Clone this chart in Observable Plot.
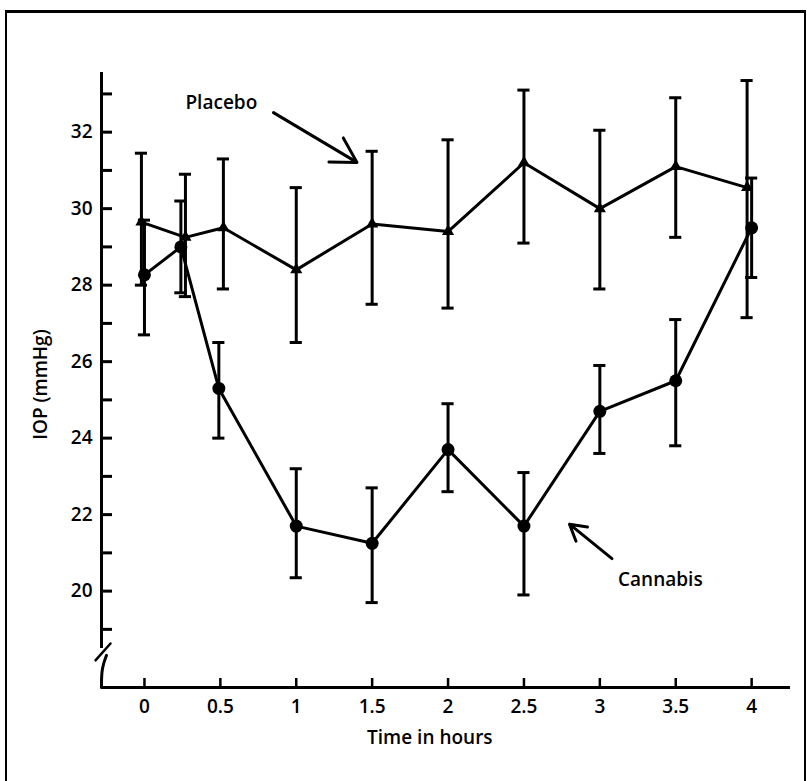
<!DOCTYPE html>
<html><head><meta charset="utf-8">
<script src="https://cdn.jsdelivr.net/npm/d3@7"></script>
<script src="https://cdn.jsdelivr.net/npm/@observablehq/plot@0.6"></script>
<style>
body{margin:0;background:#fff;}
#wrap{position:relative;width:807px;height:781px;overflow:hidden;background:#fff;}
#border{position:absolute;left:5px;top:10px;width:801px;height:900px;border-left:2.5px solid #000;border-top:3px solid #000;border-right:2px solid #000;box-sizing:border-box;pointer-events:none;}
svg{position:absolute;left:0;top:0;}
</style></head><body><div id="wrap"><div id="border"></div></div>
<script>
// ---- data ----
const placeboT    = [-0.02, 0.27, 0.52, 1, 1.5, 2, 2.5, 3, 3.5, 3.97];
const placeboMean = [29.65, 29.25, 29.5, 28.4, 29.6, 29.4, 31.2, 30.0, 31.1, 30.55];
const placeboLo   = [28.0, 27.7, 27.9, 26.5, 27.5, 27.4, 29.1, 27.9, 29.25, 27.15];
const placeboHi   = [31.45, 30.9, 31.3, 30.55, 31.5, 31.8, 33.1, 32.05, 32.9, 33.35];

const cannabisT    = [0, 0.24, 0.49, 1, 1.5, 2, 2.5, 3, 3.5, 4.0];
const cannabisMean = [28.27, 29.0, 25.3, 21.7, 21.25, 23.7, 21.7, 24.7, 25.5, 29.5];
const cannabisLo   = [26.7, 27.8, 24.0, 20.35, 19.7, 22.6, 19.9, 23.6, 23.8, 28.2];
const cannabisHi   = [29.7, 30.2, 26.5, 23.2, 22.7, 24.9, 23.1, 25.9, 27.1, 30.8];

const xTicks = [0, 0.5, 1, 1.5, 2, 2.5, 3, 3.5, 4];
const xTickLabels = ["0", "0.5", "1", "1.5", "2", "2.5", "3", "3.5", "4"];
const yTicks = [19, 20, 21, 22, 23, 24, 25, 26, 27, 28, 29, 30, 31, 32, 33];
const yLabels = [20, 22, 24, 26, 28, 30, 32];

const xTitle = "Time in hours";
const yTitle = "IOP (mmHg)";
const placeboLabel = "Placebo";
const cannabisLabel = "Cannabis";

// annotation anchors in data units
const placeboText = {t: 0.27, v: 32.77};
const placeboArrow = {t1: 0.85, v1: 32.51, t2: 1.40, v2: 31.21};
const cannabisText = {t: 3.12, v: 20.3};
const cannabisArrow = {t1: 3.08, v1: 20.85, t2: 2.80, v2: 21.75};
// axis break (data units)
const breakSlash = [{t: -0.3225, v: 18.19}, {t: -0.2237, v: 18.63}];
const breakLower = [{t: -0.250, v: 18.32}, {t: -0.283, v: 17.98}, {t: -0.283, v: 17.48}];

// ---- build ----
const xDomain = [-0.283, 4.256];
const yDomain = [17.48, 33.56];
const placebo = placeboT.map((t, i) => ({t, m: placeboMean[i], lo: placeboLo[i], hi: placeboHi[i]}));
const cannabis = cannabisT.map((t, i) => ({t, m: cannabisMean[i], lo: cannabisLo[i], hi: cannabisHi[i]}));
const cap = 0.04;
const font = "'Open Sans', 'DejaVu Sans', sans-serif";
const fs = 19;
const sw = 3;

function errorMarks(data) {
  return [
    Plot.ruleX(data, {x: "t", y1: "lo", y2: "hi", strokeWidth: sw}),
    Plot.ruleY(data, {y: "hi", x1: d => d.t - cap, x2: d => d.t + cap, strokeWidth: sw}),
    Plot.ruleY(data, {y: "lo", x1: d => d.t - cap, x2: d => d.t + cap, strokeWidth: sw})
  ];
}

const chart = Plot.plot({
  width: 807,
  height: 781,
  marginLeft: 101,
  marginRight: 17,
  marginTop: 72,
  marginBottom: 94,
  style: {fontFamily: font, background: "white", color: "black"},
  x: {domain: xDomain, axis: null},
  y: {domain: yDomain, axis: null},
  marks: [
    // axes lines
    Plot.ruleX([xDomain[0]], {y1: 18.5, y2: yDomain[1], strokeWidth: sw}),
    Plot.line(breakSlash, {x: "t", y: "v", strokeWidth: 2.5}),
    Plot.line(breakLower, {x: "t", y: "v", strokeWidth: sw, curve: "basis"}),
    Plot.ruleY([yDomain[0]], {x1: xDomain[0], x2: xDomain[1], strokeWidth: sw}),
    // inward ticks
    Plot.ruleY(yTicks, {y: d => d, x1: xDomain[0], x2: xDomain[0] + 0.0725, strokeWidth: sw}),
    Plot.ruleX(xTicks, {x: d => d, y1: yDomain[0], y2: yDomain[0] + 0.235, strokeWidth: 2.5}),
    // tick labels
    Plot.axisY({ticks: yLabels, tickSize: 0, tickPadding: 9, fontSize: fs, fontWeight: 600, label: null}),
    Plot.axisX({ticks: xTicks, tickFormat: d => xTickLabels[xTicks.indexOf(d)], tickSize: 0, tickPadding: 12, fontSize: fs, fontWeight: 600, label: null}),
    // titles
    Plot.text([yTitle], {x: -0.685, y: 25.4, text: d => d, rotate: -90, fontSize: fs, fontWeight: 600}),
    Plot.text([xTitle], {x: 1.88, y: 16.15, text: d => d, fontSize: fs, fontWeight: 600}),
    // series
    ...errorMarks(placebo),
    ...errorMarks(cannabis),
    Plot.line(placebo, {x: "t", y: "m", strokeWidth: sw}),
    Plot.line(cannabis, {x: "t", y: "m", strokeWidth: sw}),
    Plot.dot(placebo, {x: "t", y: "m", symbol: "triangle", r: 4.5, fill: "black"}),
    Plot.dot(cannabis, {x: "t", y: "m", r: 6.5, fill: "black"}),
    // annotations
    Plot.text([placeboLabel], {x: placeboText.t, y: placeboText.v, text: d => d, textAnchor: "start", fontSize: fs, fontWeight: 600}),
    Plot.arrow([placeboArrow], {x1: "t1", y1: "v1", x2: "t2", y2: "v2", strokeWidth: 3, headLength: 14}),
    Plot.text([cannabisLabel], {x: cannabisText.t, y: cannabisText.v, text: d => d, textAnchor: "start", fontSize: fs, fontWeight: 600}),
    Plot.arrow([cannabisArrow], {x1: "t1", y1: "v1", x2: "t2", y2: "v2", strokeWidth: 3, headLength: 14})
  ]
});
document.getElementById("wrap").prepend(chart);
</script>
</body></html>
